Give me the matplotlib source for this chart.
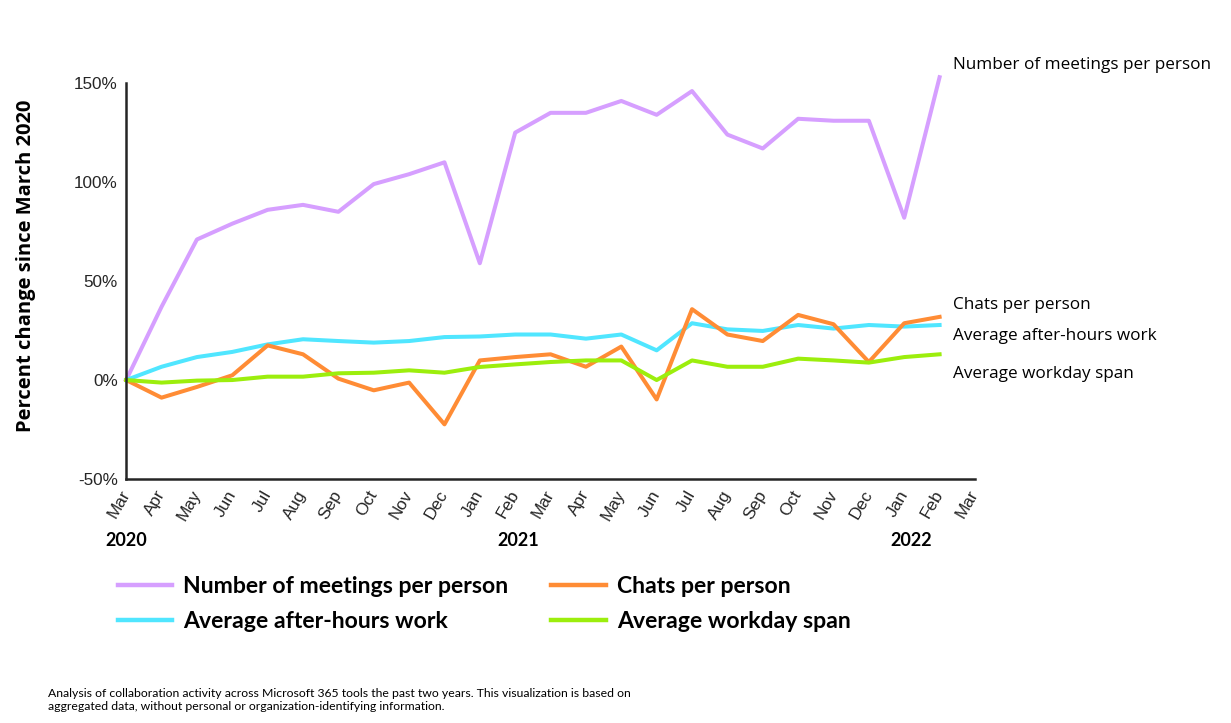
import matplotlib
matplotlib.use("Agg")
import matplotlib.pyplot as plt
import numpy as np

# 数据：相对 2020 年 3 月的变化百分比
months = ["Mar", "Apr", "May", "Jun", "Jul", "Aug", "Sep", "Oct", "Nov", "Dec",
          "Jan", "Feb", "Mar", "Apr", "May", "Jun", "Jul", "Aug", "Sep", "Oct",
          "Nov", "Dec", "Jan", "Feb", "Mar"]
years = ["2020", "2021", "2022"]
year_pos = [0, 11.1, 22.2]

meetings = [0, 37, 71, 79, 86, 88.5, 85, 99, 104, 110, 59, 125, 135, 135, 141,
            134, 146, 124, 117, 132, 131, 131, 82, 153]
after_hours = [0, 6.7, 11.6, 14.2, 18, 20.6, 19.7, 18.9, 19.7, 21.7, 22, 23, 23,
               20.9, 23, 15, 28.7, 25.6, 24.8, 27.8, 26, 27.8, 27, 27.8]
chats = [0, -8.9, -3.5, 2.4, 17.5, 13, 0.7, -5.2, -1.3, -22.4, 9.9, 11.6, 13,
         6.7, 16.9, -9.8, 35.8, 23, 19.7, 32.9, 28.2, 9.1, 28.7, 31.9]
workday = [0, -1.3, -0.3, 0, 1.7, 1.7, 3.4, 3.7, 4.9, 3.7, 6.6, 7.9, 9.1, 9.9,
           9.9, 0, 9.9, 6.7, 6.7, 10.8, 9.9, 8.8, 11.6, 13]

series_names = ["Number of meetings per person", "Average after-hours work",
                "Chats per person", "Average workday span"]
colors = ["#d69fff", "#50e6ff", "#ff8c35", "#9cee0d"]

plt.rcParams["font.family"] = ["Liberation Sans", "DejaVu Sans"]

fig = plt.figure(figsize=(12.31, 7.23), dpi=100)
ax = fig.add_axes([0.1025, 0.3375, 0.6895, 0.5475])

x = np.arange(len(meetings))
lines = []
for vals, name, c in zip([meetings, after_hours, chats, workday], series_names, colors):
    ln, = ax.plot(x, vals, color=c, lw=2.9, label=name, clip_on=False)
    lines.append(ln)

ax.set_xlim(0, len(months) - 1)
ax.set_ylim(-50, 150)
ax.set_yticks([-50, 0, 50, 100, 150])
ax.set_yticklabels(["-50%", "0%", "50%", "100%", "150%"], fontsize=12.3, color="#252525")
ax.set_xticks(np.arange(len(months)))
ax.set_xticklabels(months, rotation=60, ha="right", va="center", rotation_mode="anchor",
                   fontsize=12.3, color="#252525")
ax.tick_params(axis="y", length=0, pad=6)
ax.tick_params(axis="x", length=0, pad=9)

for s in ["top", "right"]:
    ax.spines[s].set_visible(False)
for s in ["left", "bottom"]:
    ax.spines[s].set_color("#252525")
    ax.spines[s].set_linewidth(1.8)

ax.set_ylabel("Percent change since March 2020", fontsize=14.5, fontweight="bold",
              family=["Open Sans", "DejaVu Sans"])
ax.yaxis.set_label_coords(-0.106, 0.539)

# 年份标签
for xi, yr in zip(year_pos, years):
    ax.text(xi, -0.155, yr, transform=ax.get_xaxis_transform(), ha="center", va="center",
            fontsize=13, fontweight="bold", family=["Lato", "DejaVu Sans"])

# 右侧标注
ann_font = ["Open Sans", "DejaVu Sans"]
fig.text(953 / 1231, 1 - 65 / 723, "Number of meetings per person", fontsize=12.3,
         va="center", family=ann_font)
fig.text(953 / 1231, 1 - 305 / 723, "Chats per person", fontsize=12.3, va="center",
         family=ann_font)
fig.text(953 / 1231, 1 - 336 / 723, "Average after-hours work", fontsize=12.3, va="center",
         family=ann_font)
fig.text(953 / 1231, 1 - 374 / 723, "Average workday span", fontsize=12.3, va="center",
         family=ann_font)

# 图例
leg = fig.legend(handles=lines, loc="upper left", bbox_to_anchor=(118 / 1231, 1 - 576 / 723),
                 ncol=2, frameon=False, borderpad=0, borderaxespad=0,
                 handlelength=2.35, handletextpad=0.48, columnspacing=1.87,
                 labelspacing=0.62,
                 prop={"family": ["Lato", "DejaVu Sans"], "weight": "bold", "size": 16.6})
for h in leg.legend_handles:
    h.set_linewidth(3.2)

# 脚注
fig.text(48 / 1231, 1 - 700 / 723,
         "Analysis of collaboration activity across Microsoft 365 tools the past two years. "
         "This visualization is based on\naggregated data, without personal or "
         "organization-identifying information.",
         fontsize=8.8, va="center", family=["Lato", "DejaVu Sans"], linespacing=1.2)

plt.savefig("out.png", dpi=100)
